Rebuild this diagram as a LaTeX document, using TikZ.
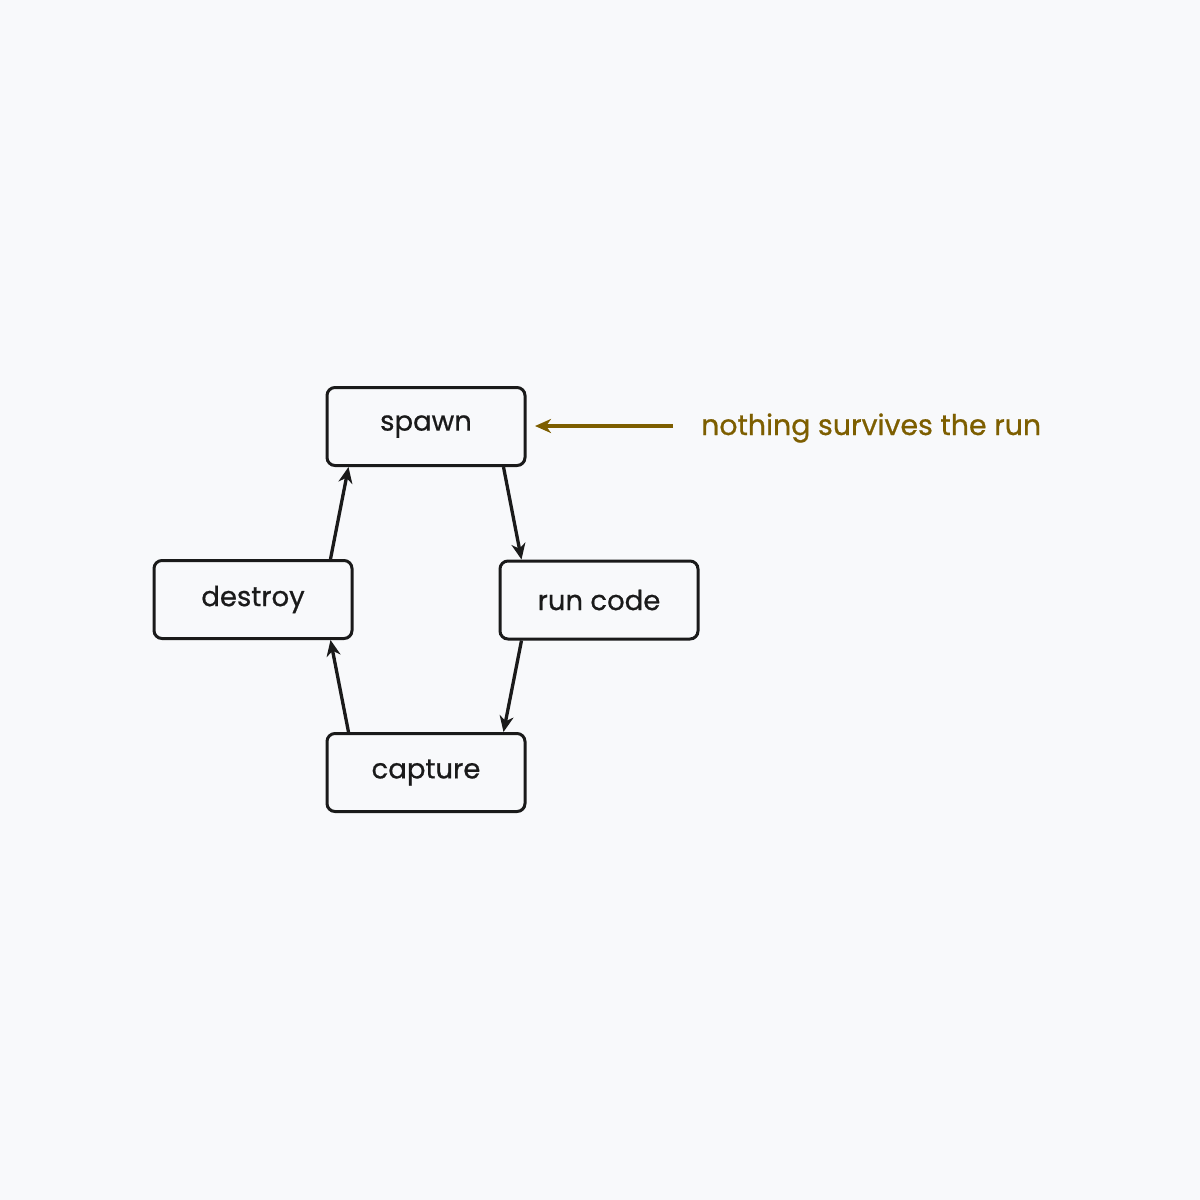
\documentclass[tikz,border=0pt]{standalone}
\usepackage{fontspec}
\setmainfont{Poppins}[FakeBold=0.7]
\usetikzlibrary{arrows.meta}
\definecolor{bg}{HTML}{F8F9FB}
\definecolor{ink}{HTML}{1A1A1A}
\definecolor{note}{HTML}{7D5E00}
\begin{document}
\begin{tikzpicture}[x=1pt,y=-1pt,
  stepbox/.style={draw=ink,line width=3pt,rounded corners=8pt,minimum width=198pt,minimum height=78pt,inner sep=0pt,font=\fontsize{27.5}{32}\selectfont,text=ink},
  flow/.style={draw=ink,line width=3.3pt,-{Stealth[length=16pt,width=14pt,inset=5pt]}},
  notearrow/.style={draw=note,line width=3.3pt,-{Stealth[length=16pt,width=14pt,inset=5pt]}}]
\fill[bg] (0,0) rectangle (1200,1200);
\useasboundingbox (0,0) rectangle (1200,1200);
\node[stepbox] (spawn) at (426,426.5) {spawn};
\node[stepbox] (destroy) at (253,599.5) {destroy};
\node[stepbox] (run) at (599,600) {run code};
\node[stepbox] (capture) at (426,772.5) {capture};
\node[anchor=base west,inner sep=0pt,text=note,font=\fontsize{28.4}{32}\selectfont] (txt) at (701,435) {nothing survives the run};
\coordinate (ns) at (673,426);
\draw[notearrow] (ns) -- (535,426);
\draw[flow] ([xshift=-23pt]destroy.north east) -- ([xshift=23pt]spawn.south west);
\draw[flow] ([xshift=-23pt]spawn.south east) -- ([xshift=23pt]run.north west);
\draw[flow] ([xshift=23pt]run.south west) -- ([xshift=-23pt]capture.north east);
\draw[flow] ([xshift=23pt]capture.north west) -- ([xshift=-23pt]destroy.south east);
\end{tikzpicture}
\end{document}
